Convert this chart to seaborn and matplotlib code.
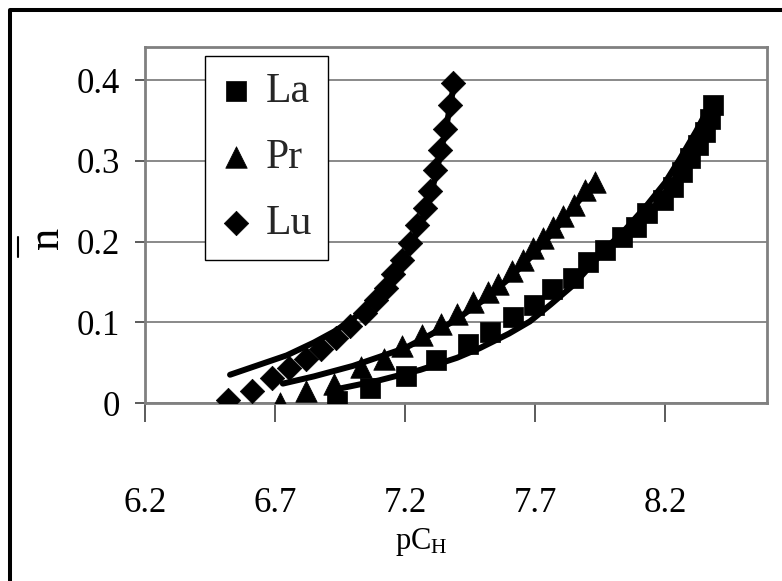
import matplotlib
matplotlib.use("Agg")
import matplotlib.pyplot as plt
from matplotlib.lines import Line2D
import numpy as np
import pandas as pd
import seaborn as sns

# ---- measured points (pC_H, n-bar) ----
la_x = [6.94, 7.065, 7.205, 7.32, 7.444, 7.527, 7.617, 7.697, 7.764, 7.847, 7.905,
        7.969, 8.033, 8.09, 8.13, 8.193, 8.232, 8.264, 8.296, 8.328, 8.355, 8.372, 8.385]
la_y = [0.003, 0.018, 0.034, 0.053, 0.073, 0.088, 0.107, 0.121, 0.141, 0.155, 0.175,
        0.189, 0.206, 0.218, 0.235, 0.251, 0.268, 0.286, 0.303, 0.320, 0.336, 0.352, 0.369]

pr_x = [6.72, 6.82, 6.925, 7.03, 7.12, 7.19, 7.265, 7.34, 7.40, 7.463, 7.52, 7.559,
        7.61, 7.655, 7.693, 7.732, 7.77, 7.809, 7.85, 7.892, 7.93]
pr_y = [0.000, 0.015, 0.024, 0.044, 0.055, 0.071, 0.084, 0.098, 0.110, 0.125, 0.138, 0.148,
        0.163, 0.177, 0.192, 0.204, 0.218, 0.232, 0.245, 0.264, 0.274]

lu_x = [6.52, 6.61, 6.687, 6.755, 6.82, 6.875, 6.935, 6.99, 7.045, 7.09, 7.125,
        7.155, 7.19, 7.219, 7.245, 7.275, 7.296, 7.315, 7.335, 7.354, 7.372, 7.386]
lu_y = [0.004, 0.015, 0.031, 0.043, 0.055, 0.067, 0.080, 0.095, 0.111, 0.128, 0.143,
        0.160, 0.177, 0.198, 0.220, 0.241, 0.262, 0.289, 0.313, 0.340, 0.369, 0.396]

# ---- calculated curves ----
la_fit_x = [6.92, 7.10, 7.258, 7.40, 7.488, 7.60, 7.68, 7.76, 7.847, 7.975, 8.05, 8.13, 8.20, 8.258, 8.32, 8.373]
la_fit_y = [0.016, 0.028, 0.041, 0.056, 0.068, 0.086, 0.101, 0.122, 0.146, 0.192, 0.216, 0.245, 0.273, 0.303, 0.337, 0.369]

pr_fit_x = [6.73, 6.85, 7.00, 7.10, 7.20, 7.30, 7.40, 7.50, 7.60, 7.70, 7.80, 7.87, 7.93]
pr_fit_y = [0.024, 0.033, 0.046, 0.057, 0.068, 0.085, 0.104, 0.127, 0.154, 0.186, 0.223, 0.251, 0.276]

lu_fit_x = [6.527, 6.745, 6.85, 6.93, 7.00, 7.08, 7.15, 7.21, 7.26, 7.30, 7.33, 7.36, 7.39]
lu_fit_y = [0.035, 0.059, 0.075, 0.089, 0.104, 0.128, 0.155, 0.186, 0.222, 0.258, 0.300, 0.345, 0.397]

names = ["La", "Pr", "Lu"]
markers = ["s", "^", "D"]
sizes = [200, 240, 155]
x_ticks = [6.2, 6.7, 7.2, 7.7, 8.2]
x_tick_labels = ["6.2", "6.7", "7.2", "7.7", "8.2"]
y_ticks = [0, 0.1, 0.2, 0.3, 0.4]
y_tick_labels = ["0", "0.1", "0.2", "0.3", "0.4"]

sns.set_theme(style="white")
plt.rcParams["font.family"] = ["Liberation Serif", "DejaVu Serif"]
plt.rcParams["mathtext.fontset"] = "custom"
plt.rcParams["mathtext.rm"] = "Liberation Serif"
plt.rcParams["mathtext.it"] = "Liberation Serif:italic"

fig = plt.figure(figsize=(7.82, 5.81), dpi=100)
ax = fig.add_axes([145 / 782, 1 - 403 / 581, 622 / 782, 356 / 581])

points = [(la_x, la_y), (pr_x, pr_y), (lu_x, lu_y)]
fits = [(la_fit_x, la_fit_y), (pr_fit_x, pr_fit_y), (lu_fit_x, lu_fit_y)]

for fx, fy in fits:
    sns.lineplot(x=fx, y=fy, color="black", linewidth=4.3, sort=False,
                 estimator=None, ax=ax, legend=False, zorder=2)

handles = []
for (px, py), m, s in zip(points, markers, sizes):
    before = len(ax.collections)
    sns.scatterplot(x=px, y=py, marker=m, s=s, color="black", edgecolor="black",
                    linewidth=0.5, ax=ax, legend=False, zorder=3)
    handles.append(ax.collections[before])

ax.set_xlim(6.2, 8.592)
ax.set_ylim(0, 0.441)
ax.set_xticks(x_ticks)
ax.set_xticklabels(x_tick_labels)
ax.set_yticks(y_ticks)
ax.set_yticklabels(y_tick_labels)

ax.yaxis.grid(True, color="#808080", linewidth=1.3)
ax.xaxis.grid(False)
ax.set_axisbelow(True)
for sp in ax.spines.values():
    sp.set_visible(True)
    sp.set_color("#808080")
    sp.set_linewidth(2)

ax.tick_params(axis="x", direction="out", length=13.5, width=1.2, color="#404040",
               pad=47, labelsize=25, bottom=True, labelcolor="black")
ax.tick_params(axis="y", direction="out", length=7, width=1.2, color="#404040",
               pad=11, labelsize=25, left=True, labelcolor="black")

ax.set_xlabel(r"pC$_\mathrm{H}$", fontsize=22, color="black")
ax.xaxis.set_label_coords(0.444, -0.345)

ax.set_ylabel("n", fontsize=32, rotation=90, va="center", color="black")
ax.yaxis.set_label_coords(-0.158, 0.4635)
# overbar of the n-bar symbol
ax.add_line(Line2D([-0.204, -0.204], [0.466, 0.410], color="black", lw=1.5,
                   transform=ax.transAxes, clip_on=False))

leg = ax.legend(handles, names, loc="upper left", bbox_to_anchor=(0.0965, 0.975),
                frameon=True, fancybox=False, edgecolor="black", framealpha=1,
                fontsize=30, borderpad=0.4, labelspacing=0.66, handletextpad=0.35,
                handlelength=0.7, borderaxespad=0, scatterpoints=1)
leg.get_frame().set_linewidth(1.0)

# outer frame (left and top edges)
fig.add_artist(Line2D([10 / 782, 10 / 782, 1], [0, 1 - 10 / 581, 1 - 10 / 581],
                      color="black", lw=2.9, transform=fig.transFigure))

fig.savefig("out.png", dpi=100)
